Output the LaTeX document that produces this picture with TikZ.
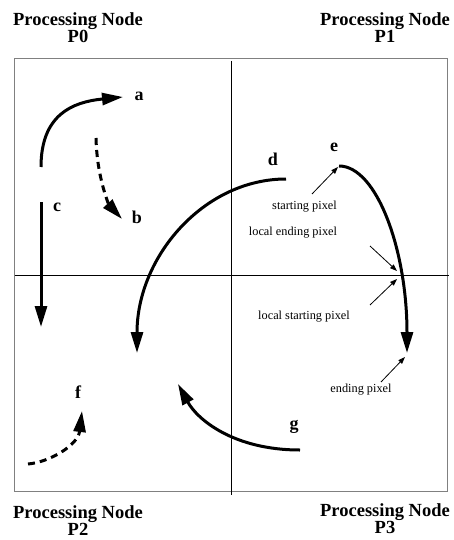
\documentclass[tikz,border=0pt]{standalone}
\usepackage{fontspec}
\setmainfont{Liberation Serif}
\usetikzlibrary{arrows.meta}

\begin{document}
\begin{tikzpicture}[x=1pt, y=-1pt,
    title/.style = {font=\bfseries\fontsize{18.5}{17}\selectfont, align=center, inner sep=0pt},
    lbl/.style = {font=\bfseries\fontsize{18}{18}\selectfont, inner sep=0pt},
    note/.style = {font=\fontsize{12.3}{14}\selectfont, inner sep=0pt, anchor=base},
    flow/.style = {line width=3pt, -{Triangle[length=21pt, width=12pt]}},
    dashflow/.style = {flow, dash pattern=on 7pt off 5pt},
    pointer/.style = {line width=0.8pt, -{Triangle[length=7pt, width=5pt]}}]

    \useasboundingbox (0,0) rectangle (453,540);

    % the four processing nodes
    \draw[gray, line width=1.3pt] (14.5,58.5) rectangle (447.5,491.5);
    \draw[line width=0.8pt] (231,61) -- (231,495);
    \draw[line width=0.8pt] (14.5,275) -- (449,275);

    \node[title] (p0) at (78,27.5) {Processing Node\\P0};
    \node[title] (p1) at (385,28) {Processing Node\\P1};
    \node[title] (p2) at (78,521) {Processing Node\\P2};
    \node[title] (p3) at (385,519) {Processing Node\\P3};

    % segment labels
    \node[lbl] (a) at (139,96.5) {a};
    \node[lbl] (b) at (137,217) {b};
    \node[lbl] (c) at (57,207) {c};
    \node[lbl] (d) at (273,159) {d};
    \node[lbl] (e) at (334,147) {e};
    \node[lbl] (f) at (78,392) {f};
    \node[lbl] (g) at (294,427) {g};

    % end points of the segments
    \coordinate (a0) at (41,167);  \coordinate (a1) at (123,97);
    \coordinate (b0) at (96,138);  \coordinate (b1) at (122,219);
    \coordinate (c0) at (41,202);  \coordinate (c1) at (41,327);
    \coordinate (d0) at (286,179); \coordinate (d1) at (137,353);
    \coordinate (e0) at (339,166); \coordinate (e1) at (407,353);
    \coordinate (f0) at (28,464);  \coordinate (f1) at (82,411);
    \coordinate (g0) at (300,450); \coordinate (g1) at (178,384);
    \coordinate (cross) at (400,275);

    \draw[flow] (a0) .. controls (41,115) and (72,102) .. (a1);
    \draw[dashflow] (b0) .. controls (97,180) and (110,206) .. (b1);
    \draw[flow] (c0) -- (c1);
    \draw[flow] (d0) .. controls (203.7,179) and (137,256.9) .. (d1);
    \draw[flow] (e0) .. controls (376.6,166) and (407,249.7) .. (e1);
    \draw[dashflow] (f0) .. controls (50,462) and (78,445) .. (f1);
    \draw[flow] (g0) .. controls (233,450) and (197,419) .. (g1);

    % pixel notes
    \node[note] (sp) at (304.5,209) {starting pixel};
    \node[note] (lep) at (293,235) {local ending pixel};
    \node[note] (lsp) at (304,319) {local starting pixel};
    \node[note] (ep) at (361,392) {ending pixel};

    \coordinate (sp0) at (312,194);
    \coordinate (lep0) at (370,246);
    \coordinate (lsp0) at (370,305);
    \coordinate (ep0) at (381,382);

    \draw[pointer] (sp0) -- ([shift={(-1,1)}]e0);
    \draw[pointer] (lep0) -- ([shift={(-3,-4)}]cross);
    \draw[pointer] (lsp0) -- ([shift={(-3,4)}]cross);
    \draw[pointer] (ep0) -- ([shift={(-2,4)}]e1);

\end{tikzpicture}
\end{document}
